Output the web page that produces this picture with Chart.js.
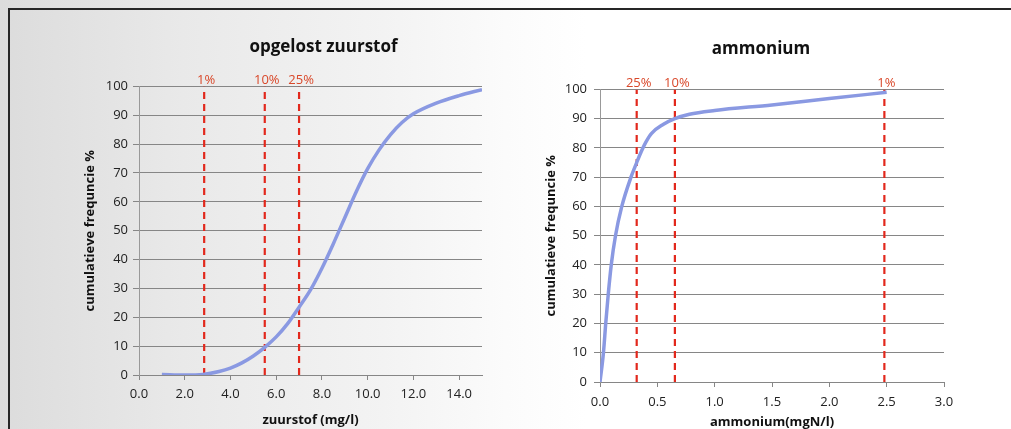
<!DOCTYPE html>
<html>
<head>
<meta charset="utf-8">
<script src="https://cdn.jsdelivr.net/npm/chart.js@4/dist/chart.umd.min.js"></script>
<style>
  html, body { margin: 0; padding: 0; }
  body {
    width: 1011px; height: 429px; overflow: hidden; position: relative;
    background: linear-gradient(to right, #dcdcdc 0%, #e9e9e9 18%, #f3f3f3 38%, #fbfbfb 50%, #ffffff 58%);
  }
  .frame-top { position: absolute; left: 8px; top: 8px; width: 1003px; height: 2px; background: #262626; }
  .frame-left { position: absolute; left: 8px; top: 8px; width: 2px; height: 421px; background: #262626; }
  #c1 { position: absolute; left: 0; top: 0; }
  #c2 { position: absolute; left: 505px; top: 0; }
</style>
</head>
<body>
<div class="frame-top"></div>
<div class="frame-left"></div>
<canvas id="c1" width="505" height="429"></canvas>
<canvas id="c2" width="506" height="429"></canvas>
<script>
// opgelost zuurstof (mg/l) vs cumulative frequency %
const o2X = [1.0, 2.0, 2.8, 3.5, 4.0, 4.5, 5.0, 5.5, 6.0, 6.5, 7.0, 7.5, 8.0, 8.5, 9.0, 9.5, 10.0, 10.5, 11.0, 11.5, 12.0, 13.0, 14.0, 15.0];
const o2Y = [0.2, 0, 0.2, 1.2, 2.4, 4.2, 6.6, 9.6, 13.2, 17.8, 23.5, 29.5, 37, 45.5, 54.5, 63.5, 71.5, 78, 83.3, 87.5, 90.5, 94.2, 96.8, 98.9];
const o2Marks = [2.85, 5.5, 7.0];
const o2MarkLabels = ["1%", "10%", "25%"];

// ammonium (mgN/l)
const nhX = [0.0, 0.03, 0.05, 0.072, 0.098, 0.135, 0.19, 0.27, 0.32, 0.36, 0.40, 0.45, 0.55, 0.653, 0.78, 1.0, 1.5, 2.0, 2.5];
const nhY = [0, 10, 20, 30, 40, 50, 60, 70, 75, 78.8, 82, 85, 88, 90, 91.5, 92.8, 94.7, 96.9, 99];
const nhMarks = [0.32, 0.653, 2.48];
const nhMarkLabels = ["25%", "10%", "1%"];

Chart.defaults.font.family = '"Open Sans", sans-serif';
Chart.defaults.color = "#222";

const GRID = "#868686";
const CURVE = "#8a99e2";
const DASH = "#e2281c";

// percentage labels above the dashed lines
const markLabels = {
  id: "markLabels",
  afterDatasetsDraw(chart, args, opts) {
    const { ctx, chartArea, scales: { x } } = chart;
    ctx.save();
    ctx.font = '13px "Open Sans"';
    ctx.fillStyle = "#d9482a";
    ctx.textAlign = "center";
    ctx.textBaseline = "bottom";
    opts.values.forEach((v, i) => {
      ctx.fillText(opts.labels[i], x.getPixelForValue(v) + 2, chartArea.top);
    });
    ctx.restore();
  }
};

// nudge title sideways (it isn't centred on the plot in the original)
const titleShift = {
  id: "titleShift",
  afterLayout(chart, args, opts) {
    const t = chart.titleBlock;
    if (t) { t.left += opts.dx; t.right += opts.dx; }
  }
};

function makeChart(id, s) {
  const curve = s.xs.map((x, i) => ({ x: x, y: s.ys[i] }));
  const datasets = [{
    data: curve,
    borderColor: CURVE,
    borderWidth: 3.5,
    pointRadius: 0,
    cubicInterpolationMode: "monotone",
    fill: false
  }];
  s.marks.forEach(m => {
    datasets.push({
      data: [{ x: m, y: 0 }, { x: m, y: 100 }],
      borderColor: DASH,
      borderWidth: 2.2,
      borderDash: [7, 5],
      pointRadius: 0,
      fill: false
    });
  });

  return new Chart(document.getElementById(id), {
    type: "line",
    data: { datasets: datasets },
    plugins: [markLabels, titleShift],
    options: {
      responsive: false,
      animation: false,
      devicePixelRatio: 1,
      layout: { padding: { left: 0, right: s.padRight, top: 0, bottom: 0 } },
      plugins: {
        legend: { display: false },
        tooltip: { enabled: false },
        title: {
          display: true,
          text: s.title,
          fullSize: false,
          color: "#111",
          font: { size: 17, weight: "bold" },
          padding: { top: s.titleTop, bottom: s.titleBottom }
        },
        markLabels: { values: s.marks, labels: s.markLabels },
        titleShift: { dx: s.titleDx }
      },
      scales: {
        x: {
          type: "linear",
          min: 0,
          max: s.xMax,
          afterFit: sc => { sc.height = s.xHeight; },
          ticks: {
            stepSize: s.xStep,
            includeBounds: false,
            autoSkip: false,
            maxRotation: 0,
            padding: s.xTickPad,
            font: { size: 13 },
            callback: v => v.toFixed(1)
          },
          grid: { drawOnChartArea: false, tickLength: 5, color: GRID },
          border: { color: GRID },
          title: {
            display: true,
            text: s.xTitle,
            color: "#111",
            font: { size: 13, weight: "bold" },
            padding: { top: 0, bottom: s.xTitleBottom }
          }
        },
        y: {
          min: 0,
          max: 100,
          afterFit: sc => { sc.width = s.yWidth; },
          ticks: { stepSize: 10, padding: s.yTickPad, font: { size: 13 } },
          grid: { color: GRID, tickLength: 6 },
          border: { color: "#999" },
          title: {
            display: true,
            text: "cumulatieve frequncie %",
            color: "#111",
            font: { size: 13, weight: "bold" },
            padding: { top: s.yTitleTop, bottom: 0 }
          }
        }
      }
    }
  });
}

makeChart("c1", {
  title: "opgelost zuurstof", xTitle: "zuurstof (mg/l)",
  xs: o2X, ys: o2Y, marks: o2Marks, markLabels: o2MarkLabels,
  xMax: 15, xStep: 2,
  padRight: 23, yWidth: 139, xHeight: 54,
  titleTop: 37, titleBottom: 29, titleDx: 13,
  xTickPad: 6, xTitleBottom: 1, yTickPad: 5, yTitleTop: 82
});

makeChart("c2", {
  title: "ammonium", xTitle: "ammonium(mgN/l)",
  xs: nhX, ys: nhY, marks: nhMarks, markLabels: nhMarkLabels,
  xMax: 3, xStep: 0.5,
  padRight: 67, yWidth: 95, xHeight: 47,
  titleTop: 39, titleBottom: 30, titleDx: -11,
  xTickPad: 7, xTitleBottom: -1, yTickPad: 7, yTitleTop: 38
});
</script>
</body>
</html>
